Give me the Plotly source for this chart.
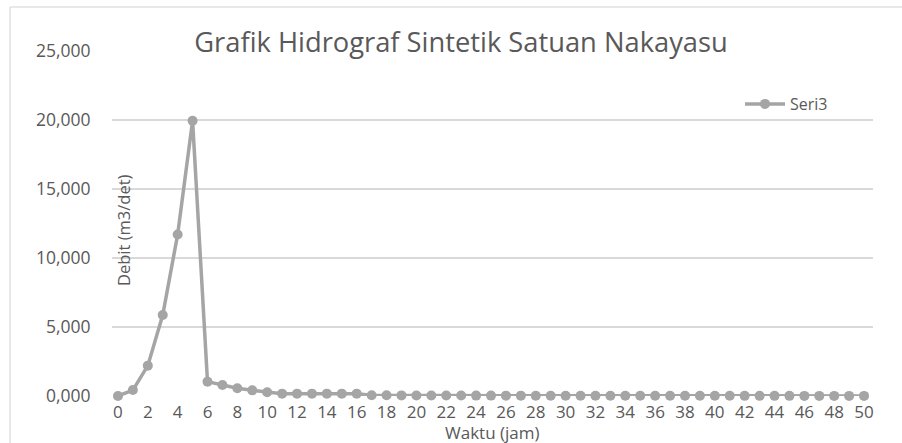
import plotly.graph_objects as go

hours = list(range(0, 51))
debit = [0, 430, 2200, 5870, 11700, 19950, 1040, 800, 560, 410,
         270, 170, 170, 170, 170, 170, 170, 60, 50, 45,
         40, 38, 35, 33, 30, 28, 27, 25, 24, 22,
         21, 20, 19, 18, 17, 16, 15, 14, 14, 13,
         12, 12, 11, 11, 10, 10, 9, 9, 8, 8, 8]
y_ticks = [0, 5000, 10000, 15000, 20000, 25000]
y_tick_text = ["0,000", "5,000", "10,000", "15,000", "20,000", "25,000"]
x_ticks = list(range(0, 51, 2))

FONT = "Open Sans"
TXT = "#595959"
GREY = "#A5A5A5"

fig = go.Figure()
fig.add_trace(go.Scatter(
    x=hours, y=debit, mode="lines+markers", name="Seri3",
    line=dict(color=GREY, width=3.5),
    marker=dict(color=GREY, size=10),
    cliponaxis=False,
))

fig.update_layout(
    width=902, height=443,
    margin=dict(l=112, r=29, t=51, b=47),
    paper_bgcolor="white", plot_bgcolor="white",
    font=dict(family=FONT, color=TXT, size=17),
    showlegend=True,
    legend=dict(x=(740 - 112) / 761, y=(396 - 104) / 345, xanchor="left", yanchor="middle",
                font=dict(size=16, color=TXT), itemwidth=40,
                bgcolor="rgba(0,0,0,0)"),
    title=dict(text="Grafik Hidrograf Sintetik Satuan Nakayasu",
               x=461 / 902, xanchor="center", y=1 - 42 / 443, yanchor="middle",
               font=dict(family=FONT, size=27.3, color=TXT)),
)
fig.update_xaxes(
    range=[-0.4, 50.6], tickvals=x_ticks, showgrid=False, zeroline=False,
    showline=False, ticks="outside", ticklen=1, tickcolor="rgba(0,0,0,0)",
    tickfont=dict(size=17, color=TXT),
)
fig.update_yaxes(
    range=[0, 25000], tickvals=y_ticks, ticktext=y_tick_text,
    showgrid=True, gridcolor="#D9D9D9", gridwidth=1.5, zeroline=False,
    showline=False, ticks="outside", ticklen=17, tickcolor="rgba(0,0,0,0)",
    tickfont=dict(size=17.5, color=TXT),
)
# axis titles placed inside, as in reference
fig.add_annotation(text="Debit (m3/det)", textangle=-90, xref="paper", yref="paper",
                   x=(123 - 112) / 761, y=(396 - 230) / 345, showarrow=False,
                   font=dict(size=16.5, color=TXT), xanchor="center", yanchor="middle")
fig.add_annotation(text="Waktu (jam)", xref="paper", yref="paper",
                   x=(492 - 112) / 761, y=(396 - 433) / 345, showarrow=False,
                   font=dict(size=17, color=TXT), xanchor="center", yanchor="middle")
# chart frame
fig.add_shape(type="line", xref="paper", yref="paper", layer="above",
              x0=(10 - 112) / 761, x1=(902 - 112) / 761,
              y0=(396 - 7) / 345, y1=(396 - 7) / 345,
              line=dict(color="#E0E0E0", width=1.5))
fig.add_shape(type="line", xref="paper", yref="paper", layer="above",
              x0=(10 - 112) / 761, x1=(10 - 112) / 761,
              y0=(396 - 7) / 345, y1=(396 - 443) / 345,
              line=dict(color="#E0E0E0", width=1.5))

fig.write_html("out.html", config={"displayModeBar": False},
               post_script="document.body.style.margin='0';document.body.style.overflow='hidden';")
